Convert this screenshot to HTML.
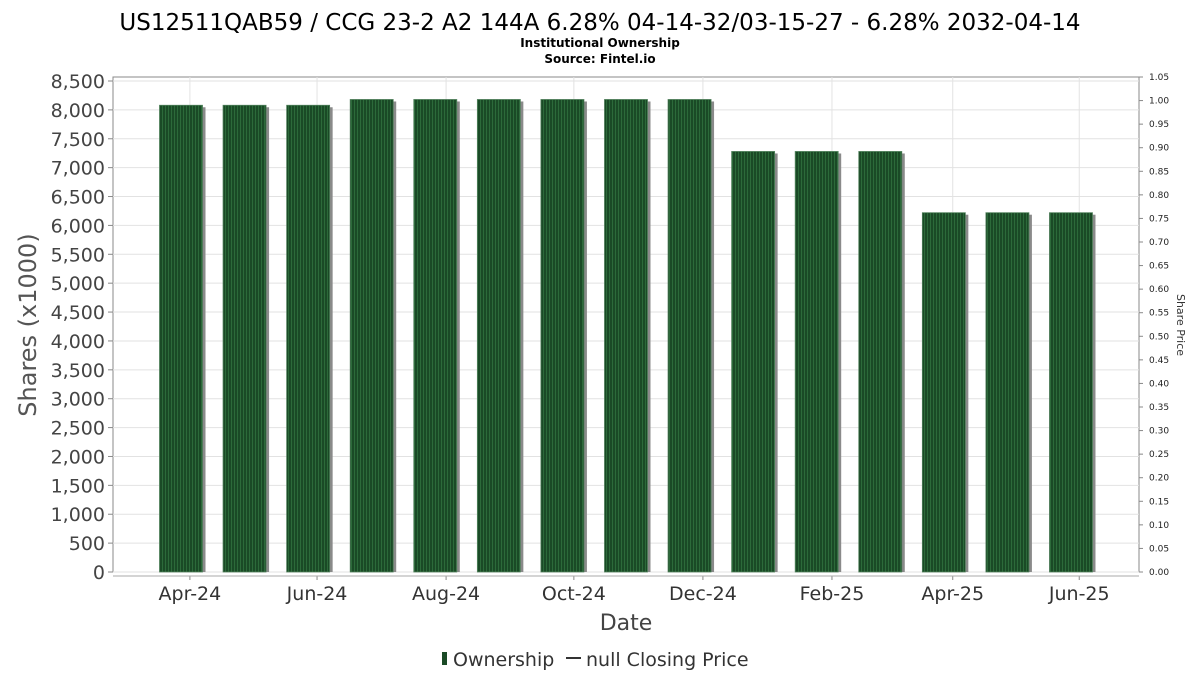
<!DOCTYPE html>
<html><head><meta charset="utf-8"><style>
html,body{margin:0;padding:0;background:#fff;}
svg{display:block;font-family:"DejaVu Sans","Liberation Sans",sans-serif;}
</style></head><body>
<svg id="chart" width="1200" height="675" viewBox="0 0 1200 675">
<defs>
<pattern id="stripe" width="3" height="10" patternUnits="userSpaceOnUse">
<rect width="3" height="10" fill="#1a4a26"/><rect width="1" height="10" fill="#2c6a3a"/>
</pattern>
</defs>
<text x="600" y="30" text-anchor="middle" font-size="23" fill="#000">US12511QAB59 / CCG 23-2 A2 144A 6.28% 04-14-32/03-15-27 - 6.28% 2032-04-14</text>
<text x="600" y="47" text-anchor="middle" font-size="12" font-weight="bold" fill="#000">Institutional Ownership</text>
<text x="600" y="63" text-anchor="middle" font-size="12" font-weight="bold" fill="#000">Source: Fintel.io</text>
<rect x="113" y="77" width="1026" height="495" fill="#fff" stroke="#888"/>
<g id="grid"></g>
<g id="bars"></g>
<g id="axes"></g>
<text transform="translate(36,325) rotate(-90)" text-anchor="middle" font-size="24" fill="#555">Shares (x1000)</text>
<text transform="translate(1177,325) rotate(90)" text-anchor="middle" font-size="11" fill="#333">Share Price</text>
<text x="626" y="630" text-anchor="middle" font-size="22" fill="#444">Date</text>
<g>
<rect x="442" y="652" width="5" height="13" fill="#1a4a26"/>
<text x="453" y="666" font-size="19" fill="#333">Ownership</text>
<line x1="566" y1="658" x2="581" y2="658" stroke="#333" stroke-width="2"/>
<text x="586" y="666" font-size="19" fill="#333">null Closing Price</text>
</g>
</svg>
<script>
const ownershipValues = [8080, 8080, 8080, 8180, 8180, 8180, 8180, 8180, 8180, 7280, 7280, 7280, 6220, 6220, 6220];
const leftTicks = [0,500,1000,1500,2000,2500,3000,3500,4000,4500,5000,5500,6000,6500,7000,7500,8000,8500];
const rightTicks = [0,0.05,0.1,0.15,0.2,0.25,0.3,0.35,0.4,0.45,0.5,0.55,0.6,0.65,0.7,0.75,0.8,0.85,0.9,0.95,1.0,1.05];
const xTickLabels = ["Apr-24","Jun-24","Aug-24","Oct-24","Dec-24","Feb-25","Apr-25","Jun-25"];
const xTickIndex = [0.14, 2.14, 4.17, 6.18, 8.21, 10.24, 12.14, 14.13];

const NS = "http://www.w3.org/2000/svg";
const plotL = 113, plotR = 1139, y0 = 572, yTop = 81;
function yScale(v){ return y0 - v * (y0 - yTop) / 8500; }
function yRight(v){ return y0 - v * (y0 - yTop) / 1.05 * (1.05/1.05); }
function xScale(i){ return 181 + i * 63.57; }
function mk(tag, attrs, parent){ const e = document.createElementNS(NS, tag); for (const k in attrs) e.setAttribute(k, attrs[k]); parent.appendChild(e); return e; }

const grid = document.getElementById('grid');
const bars = document.getElementById('bars');
const axes = document.getElementById('axes');

leftTicks.forEach(t => {
  const y = yScale(t);
  const gl = mk('line', {x1: plotL, x2: plotR, y1: y, y2: y, stroke: '#e2e2e2'}, grid);
  
  
  const tk = mk('line', {x1: plotL - 5, x2: plotL, y1: y, y2: y, stroke: '#888'}, axes);
  
  
  const lb = mk('text', {x: plotL - 8, y: y + 7, 'text-anchor': 'end', 'font-size': 19, fill: '#444'}, axes);
  lb.textContent = t.toLocaleString('en-US');
  
  
});

rightTicks.forEach(t => {
  const y = y0 - t * (y0 - 77) / 1.05;
  const tk = mk('line', {x1: plotR, x2: plotR + 4, y1: y, y2: y, stroke: '#888'}, axes);
  
  
  const lb = mk('text', {x: plotR + 10, y: y + 3, 'font-size': 9, fill: '#222'}, axes);
  lb.textContent = t.toFixed(2);
  
  
});

xTickIndex.forEach((ix, k) => {
  const x = xScale(ix);
  const gl = mk('line', {x1: x, x2: x, y1: 77, y2: y0, stroke: '#e2e2e2'}, grid);
  
  
  const tk = mk('line', {x1: x, x2: x, y1: 576, y2: 580, stroke: '#888'}, axes);
  
  
  const lb = mk('text', {x: x, y: 600, 'text-anchor': 'middle', 'font-size': 19, fill: '#333'}, axes);
  lb.textContent = xTickLabels[k];
  
  
});
const xl = mk('line', {x1: plotL, x2: plotR, y1: 576, y2: 576, stroke: '#aaa'}, axes);



ownershipValues.forEach((v, i) => {
  const cx = xScale(i), w = 43, y = yScale(v);
  const sh = mk('rect', {x: cx - w/2 + 3, y: y + 2, width: w, height: y0 - y - 2, fill: '#8a8a8a'}, bars);
  
  
  const b = mk('rect', {x: cx - w/2, y: y, width: w, height: y0 - y, fill: 'url(#stripe)', stroke: '#4f7f5a', 'stroke-width': 0.8}, bars);
  
  
});
</script>
</body></html>
